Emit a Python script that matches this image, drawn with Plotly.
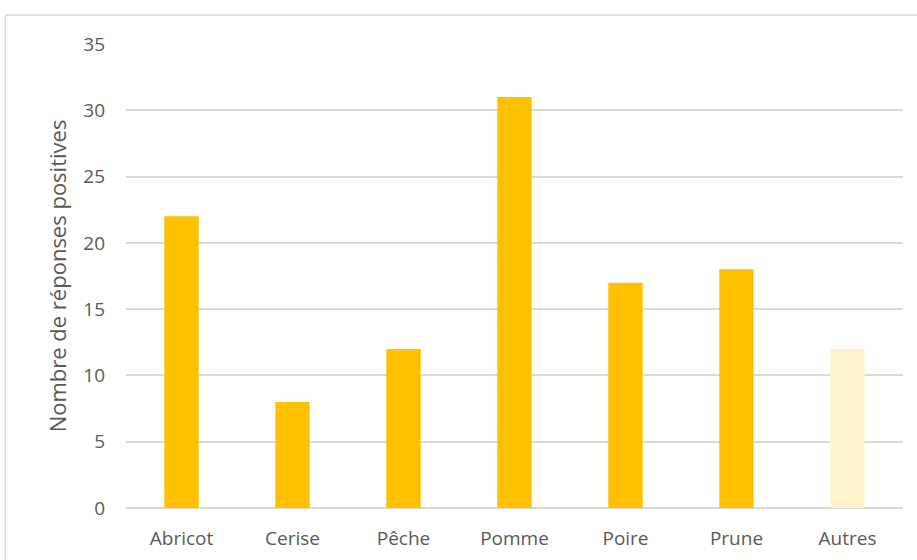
import plotly.graph_objects as go

categories = ["Abricot", "Cerise", "Pêche", "Pomme", "Poire", "Prune", "Autres"]
values = [22, 8, 12, 31, 17, 18, 12]
bar_colors = ["#FFC000"] * 6 + ["#FFF2CC"]
y_ticks = [0, 5, 10, 15, 20, 25, 30, 35]

fig = go.Figure(go.Bar(x=categories, y=values, marker=dict(color=bar_colors, line=dict(width=0)), width=0.31))

font = "Open Sans, Noto Sans, sans-serif"
L, T, R, B = 126, 44, 14, 52
pw = 917 - L - R
ph = 560 - T - B
fig.update_layout(
    width=917, height=560,
    margin=dict(l=L, r=R, t=T, b=B, autoexpand=False),
    paper_bgcolor="white", plot_bgcolor="white",
    showlegend=False,
    font=dict(family=font, size=19, color="#595959"),
    xaxis=dict(showgrid=False, showline=False, ticks="", ticklabelstandoff=17, automargin=False,
               tickfont=dict(size=19, color="#595959")),
    yaxis=dict(range=[0, 35], tickvals=y_ticks, showgrid=True, gridcolor="#D9D9D9", gridwidth=1.5,
               zeroline=True, zerolinecolor="#D9D9D9", zerolinewidth=1.5, showline=False, automargin=False,
               ticks="", ticklabelstandoff=20, tickfont=dict(size=19, color="#595959"),
               title=dict(text="Nombre de réponses positives", font=dict(size=22, color="#595959"), standoff=10)),
    shapes=[dict(type="rect", xref="paper", yref="paper", x0=(5.5 - L) / pw, x1=1.2,
                 y0=-0.3, y1=(ph + T - 15) / ph, line=dict(color="#D9D9D9", width=1.5), layer="below")],
)
fig.write_html("out.html", config={"displayModeBar": False},
               post_script="document.body.style.margin='0';")
